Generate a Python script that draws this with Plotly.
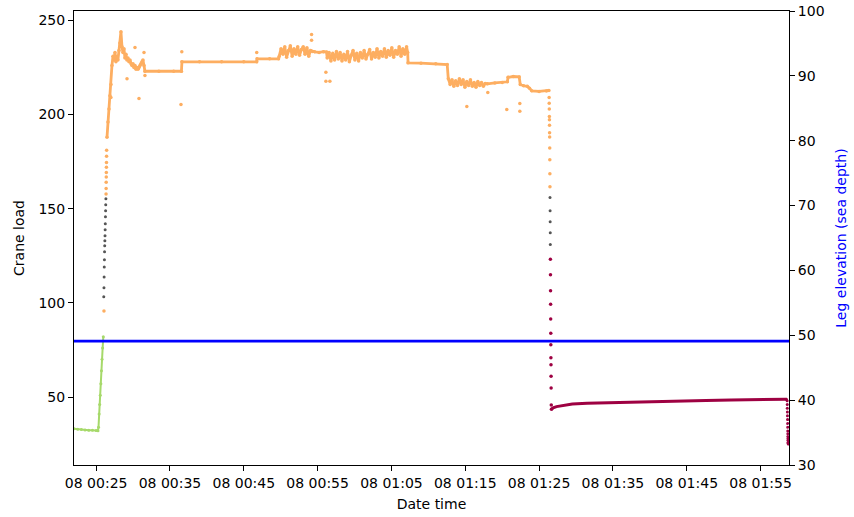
import pandas as pd
import plotly.graph_objects as go

BASE = pd.Timestamp("2020-01-08 00:00:00")

# ---- data (minutes after midnight, crane load) ----
green_min = [22.00, 22.50, 23.00, 23.50, 24.00, 24.50, 25.00, 25.25, 25.32, 25.40, 25.48,
             25.56, 25.64, 25.72, 25.80, 25.88, 25.97]
green_load = [33.2, 32.9, 32.7, 32.5, 32.4, 32.3, 32.2, 32.1, 34.0, 41.0, 46.0,
              51.0, 57.0, 64.0, 70.0, 76.0, 82.0]

gray_min = [26.03, 26.06, 26.08, 26.10, 26.12, 26.14, 26.16, 26.18, 26.20, 26.22, 26.24,
            26.26, 26.28, 26.30, 26.32,
            86.48, 86.49, 86.50, 86.51, 86.52]
gray_load = [103.2, 108.0, 113.8, 119.1, 122.9, 127.1, 130.3, 133.0, 135.6, 138.8, 142.0,
             145.7, 148.9, 152.1, 155.3,
             156.0, 148.9, 143.1, 137.2, 131.0]

orange_min = [26.47, 26.60, 26.74, 26.87, 27.01, 27.14, 27.28, 27.41, 27.55, 27.68, 27.82,
              27.95, 28.09, 28.22, 28.36, 28.50, 28.63, 28.77, 28.90, 29.04, 29.17, 29.31,
              29.45, 29.58, 29.72, 29.85, 29.99, 30.12, 30.26, 30.40, 30.53, 30.67, 30.80,
              30.94, 31.07, 31.21, 31.34, 31.48, 31.61, 33.50, 35.50, 36.55,
              36.62, 39.00, 42.00, 45.00, 46.75,
              46.80, 48.50, 49.70,
              49.80, 50.05, 50.30, 50.55, 50.80, 51.05, 51.30, 51.55, 51.80, 52.05, 52.30,
              52.55, 52.80, 53.05, 53.30, 53.55, 53.80, 54.05, 54.30,
              54.60, 55.20, 55.80, 56.20,
              56.30, 56.55, 56.80, 57.05, 57.30, 57.55, 57.80,
              58.05, 58.30, 58.55, 58.80, 59.05, 59.30, 59.55, 59.80, 60.05, 60.30, 60.55,
              60.80, 61.05, 61.30, 61.55, 61.80, 62.05, 62.30, 62.55, 62.80, 63.05, 63.30,
              63.55, 63.80, 64.05, 64.30, 64.55, 64.80, 65.05, 65.30, 65.55, 65.80, 66.05,
              66.30, 66.55, 66.80, 67.05, 67.20,
              67.25, 69.00, 71.00, 72.55,
              72.70, 72.95, 73.20, 73.45, 73.70, 73.95, 74.20, 74.45, 74.70, 74.95, 75.20,
              75.45, 75.70, 75.95, 76.20, 76.45, 76.70, 76.95, 77.20, 77.45, 77.70,
              78.00, 79.00, 80.00, 80.70,
              80.80, 81.50, 82.30,
              82.45, 82.90, 83.40, 83.70, 84.00, 85.00, 86.00, 86.33]
orange_load = [188.0, 196.0, 203.0, 210.0, 216.0, 226.0, 231.0, 229.0, 233.0, 228.0, 231.0,
               229.0, 234.0, 238.0, 244.0, 236.0, 233.0, 235.0, 230.0, 232.0, 229.0, 230.0,
               228.0, 229.0, 227.0, 226.0, 227.0, 225.0, 226.0, 224.0, 225.0, 224.0, 225.0,
               226.0, 227.0, 228.0, 229.0, 226.0, 223.0, 223.0, 223.0, 223.0,
               228.0, 228.0, 228.0, 228.0, 228.0,
               229.6, 229.6, 229.6,
               231.0, 235.0, 232.0, 236.0, 230.5, 234.0, 236.5, 231.0, 235.0, 232.0, 236.0,
               231.5, 234.5, 236.0, 232.0, 235.5, 231.0, 234.0, 233.5,
               233.3, 233.0, 233.4, 233.2,
               230.0, 233.0, 228.5, 232.5, 229.0, 233.5, 229.5,
               233.0, 228.5, 232.0, 229.0, 233.5, 228.0, 231.5, 234.0, 229.0, 232.5, 228.5,
               233.0, 230.0, 234.0, 229.5, 232.0, 234.5, 229.5, 233.0, 230.5, 235.0, 230.0,
               233.5, 231.0, 235.0, 230.5, 234.0, 231.5, 235.5, 230.5, 234.0, 232.0, 236.0,
               231.0, 235.0, 232.0, 236.0, 233.0,
               227.5, 227.3, 227.0, 226.6,
               219.0, 216.0, 218.5, 215.0, 218.0, 215.5, 219.0, 216.0, 218.5, 214.5, 217.5,
               215.5, 218.5, 215.0, 217.0, 214.5, 217.5, 215.5, 217.0, 215.0, 216.5,
               216.3, 216.8, 217.0, 217.4,
               219.8, 220.2, 220.0,
               216.0, 215.3, 215.0, 214.0, 212.6, 212.3, 212.5, 212.8]

orange_pts_min = [26.06, 26.34, 26.35, 26.36, 26.37, 26.38, 26.39, 26.40, 26.41, 26.42,
                  27.00, 29.18, 30.26, 30.80, 31.48, 31.61, 36.49, 36.60, 46.75,
                  54.18, 54.18, 56.12, 56.12, 56.66, 75.21, 78.05, 80.62, 82.39, 82.39,
                  86.36, 86.37, 86.38, 86.39, 86.40, 86.41, 86.42, 86.43, 86.44, 86.45,
                  86.46, 86.47]
orange_pts_load = [95.7, 157.8, 160.8, 164.0, 166.9, 169.3, 172.0, 174.6, 177.8, 181.0,
                   209.0, 219.0, 235.6, 208.5, 233.0, 220.7, 205.3, 233.3, 233.0,
                   242.5, 239.5, 222.5, 217.7, 217.7, 204.3, 211.7, 202.7, 205.9, 201.8,
                   209.0, 206.0, 203.0, 199.0, 197.3, 194.3, 190.3, 188.1, 182.3, 176.0,
                   168.6, 161.7]

red_min = [86.53, 86.54, 86.55, 86.56, 86.57, 86.58, 86.59, 86.60, 86.61, 86.62, 86.63,
           86.65, 86.67, 86.90, 87.36, 88.20, 89.50, 91.50, 94.10, 97.50, 100.90, 104.00,
           107.60, 111.00, 114.40, 118.50,
           118.60, 118.61, 118.62, 118.63, 118.64, 118.65, 118.66, 118.67, 118.68, 118.69,
           118.70, 118.71, 118.72, 118.73, 118.74, 118.75]
red_load = [123.2, 114.9, 106.5, 99.3, 91.5, 83.9, 77.8, 70.9, 67.2, 61.0, 54.8,
            45.7, 43.5, 44.2, 44.9, 45.6, 46.3, 46.7, 47.0, 47.3, 47.7, 47.9,
            48.2, 48.4, 48.6, 48.8,
            48.0, 46.0, 44.0, 42.0, 40.0, 38.0, 36.0, 34.0, 32.0, 30.5,
            29.0, 28.0, 27.0, 26.0, 25.5, 25.0]

leg_min = [22.00, 118.85]
leg_elev = [49.1, 49.1]

x_ticks = ["00:25", "00:35", "00:45", "00:55", "01:05", "01:15", "01:25", "01:35", "01:45", "01:55"]


def to_time(mins):
    return BASE + pd.to_timedelta(mins, unit="min")


FONT = "DejaVu Sans"
fig = go.Figure()

fig.add_trace(go.Scatter(x=to_time(green_min), y=green_load, mode="lines+markers",
                         line=dict(color="#a6d96a", width=2),
                         marker=dict(color="#a6d96a", size=3), showlegend=False))
fig.add_trace(go.Scatter(x=to_time(orange_min), y=orange_load, mode="lines+markers",
                         line=dict(color="#fdae61", width=2.8),
                         marker=dict(color="#fdae61", size=3.5), showlegend=False))
fig.add_trace(go.Scatter(x=to_time(orange_pts_min), y=orange_pts_load, mode="markers",
                         marker=dict(color="#fdae61", size=3.5), showlegend=False))
fig.add_trace(go.Scatter(x=to_time(gray_min), y=gray_load, mode="markers",
                         marker=dict(color="#555555", size=3), showlegend=False))
fig.add_trace(go.Scatter(x=to_time(red_min[:13]), y=red_load[:13], mode="markers",
                         marker=dict(color="#9e0142", size=3.5), showlegend=False))
fig.add_trace(go.Scatter(x=to_time(red_min[12:26]), y=red_load[12:26], mode="lines",
                         line=dict(color="#9e0142", width=3), showlegend=False))
fig.add_trace(go.Scatter(x=to_time(red_min[25:]), y=red_load[25:], mode="markers",
                         marker=dict(color="#9e0142", size=3), showlegend=False))
fig.add_trace(go.Scatter(x=to_time(leg_min), y=leg_elev, mode="lines", yaxis="y2",
                         line=dict(color="#0000ff", width=2.6), showlegend=False))

tickvals = [pd.Timestamp("2020-01-08 " + t) for t in x_ticks]
ticktext = ["08 " + t for t in x_ticks]

axis_common = dict(showline=True, linecolor="black", linewidth=1.1, ticks="outside",
                   ticklen=5, tickwidth=1, tickcolor="black", showgrid=False, zeroline=False,
                   automargin=False,
                   tickfont=dict(family=FONT, size=14, color="black"))

fig.update_layout(
    width=854, height=517,
    margin=dict(l=74, r=65, t=11, b=52),
    paper_bgcolor="white", plot_bgcolor="white",
    font=dict(family=FONT, size=14, color="black"),
    xaxis=dict(type="date", range=[to_time(22.0), to_time(118.85)],
               tickvals=tickvals, ticktext=ticktext, mirror=True,
               title=dict(text="Date time", font=dict(family=FONT, size=14), standoff=9),
               **axis_common),
    yaxis=dict(range=[13.9, 255.0], tickvals=[50, 100, 150, 200, 250],
               title=dict(text="Crane load", font=dict(family=FONT, size=14), standoff=10),
               **axis_common),
    yaxis2=dict(range=[30, 100], overlaying="y", side="right",
                tickvals=[30, 40, 50, 60, 70, 80, 90, 100],
                title=dict(text="Leg elevation (sea depth)",
                           font=dict(family=FONT, size=14, color="#0000ff"), standoff=12),
                **axis_common),
)

fig.write_html("out.html", config={"displayModeBar": False},
               post_script="document.body.style.margin='0';document.body.style.overflow='hidden';")
